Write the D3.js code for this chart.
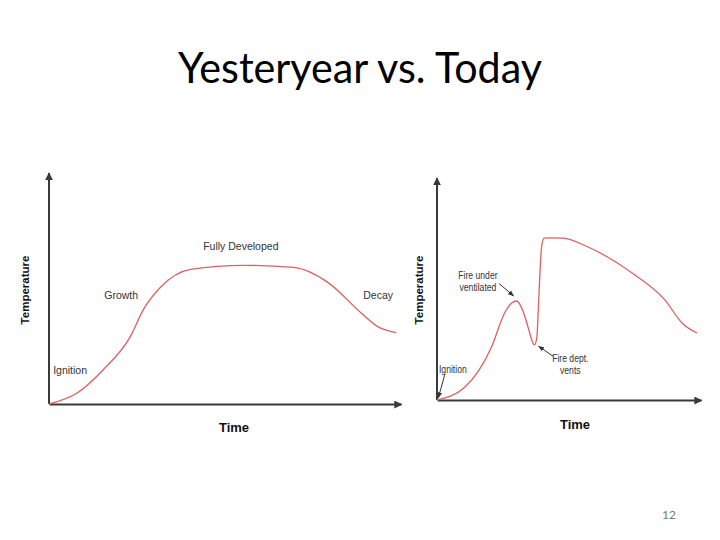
<!DOCTYPE html>
<style>
body { margin: 0; background: #fff; }
</style>
<svg width="720" height="540" font-family="Liberation Sans, Arial, sans-serif"></svg>
<script src="https://d3js.org/d3.v7.min.js"></script>
<script>

// yesteryear curve: time vs temperature (0-100 units)
const oldTime = [0, 8.0, 15.4, 23.1, 26.8, 31.6, 40.2, 55.3, 69.5, 79.2, 88.6, 93.4, 98.6];
const oldTemp = [0, 4.7, 14.7, 28.9, 40.5, 50.0, 57.8, 59.5, 58.6, 52.2, 39.2, 33.2, 30.6];
const oldLabels = ['Ignition', 'Growth', 'Fully Developed', 'Decay'];
const oldLabelPos = [[6, 14.5], [20.5, 46.5], [54.5, 67.5], [93.5, 46.5]];

// today curve
const newTime = [0, 10.6, 20.7, 25.8, 28.3, 30.2, 32.7, 34.6, 35.9, 36.9, 37.8, 38.4, 39.0, 39.7, 40.6, 43.4, 47.7, 57.2, 73.9, 86.4, 92.8, 98.5];
const newTemp = [0, 5.8, 23.8, 39.3, 43.3, 44.2, 39.3, 32.1, 26.8, 24.6, 27.7, 41.1, 57.1, 69.2, 72.3, 72.4, 72.3, 68.3, 56.7, 44.6, 34.4, 29.9];

const svg = d3.select('svg');
const axisColor = '#3a3a3a';
const lineColor = '#de5f5f';

const defs = svg.append('defs');
defs.append('marker')
	.attr('id', 'arrow')
	.attr('viewBox', '0 0 10 10')
	.attr('refX', 9)
	.attr('refY', 5)
	.attr('markerWidth', 4)
	.attr('markerHeight', 4)
	.attr('orient', 'auto')
	.append('path')
	.attr('d', 'M0,0 L10,5 L0,10 z')
	.attr('fill', axisColor);
defs.append('marker')
	.attr('id', 'small')
	.attr('viewBox', '0 0 10 10')
	.attr('refX', 9)
	.attr('refY', 5)
	.attr('markerWidth', 6)
	.attr('markerHeight', 6)
	.attr('orient', 'auto')
	.append('path')
	.attr('d', 'M0,1 L10,5 L0,9 z')
	.attr('fill', '#333');

svg.append('text')
	.attr('x', 360)
	.attr('y', 83)
	.attr('text-anchor', 'middle')
	.attr('font-family', 'Lato, Carlito, sans-serif')
	.attr('font-size', 42)
	.attr('textLength', 364)
	.attr('lengthAdjust', 'spacingAndGlyphs')
	.attr('fill', '#000')
	.text('Yesteryear vs. Today');

svg.append('text')
	.attr('x', 669)
	.attr('y', 519)
	.attr('text-anchor', 'middle')
	.attr('font-family', 'Lato, sans-serif')
	.attr('font-size', 12)
	.attr('fill', '#777')
	.text('12');

function panel(cfg) {
	const x = d3.scaleLinear().domain([0, 100]).range(cfg.xr);
	const y = d3.scaleLinear().domain([0, 100]).range(cfg.yr);
	const g = svg.append('g');

	const xa = g.append('g')
		.attr('transform', `translate(0,${cfg.yr[0]})`)
		.call(d3.axisBottom(x).tickValues([]).tickSizeOuter(0));
	const ya = g.append('g')
		.attr('transform', `translate(${cfg.xr[0]},0)`)
		.call(d3.axisLeft(y).tickValues([]).tickSizeOuter(0));
	xa.select('.domain').attr('stroke', axisColor).attr('stroke-width', 2).attr('marker-end', 'url(#arrow)');
	// y domain path draws bottom to top
	ya.select('.domain')
		.attr('d', `M0,${cfg.yr[0]}V${cfg.yr[1] + 2}`)
		.attr('stroke', axisColor).attr('stroke-width', 2).attr('marker-end', 'url(#arrow)');

	g.append('path')
		.datum(cfg.time.map((t, i) => [t, cfg.temp[i]]))
		.attr('fill', 'none')
		.attr('stroke', lineColor)
		.attr('stroke-width', 1.3)
		.attr('d', d3.line().x((d) => x(d[0])).y((d) => y(d[1])).curve(d3.curveMonotoneX));

	g.append('text')
		.attr('transform', `translate(${cfg.tx},${cfg.ty}) rotate(-90)`)
		.attr('text-anchor', 'middle')
		.attr('font-weight', 'bold')
		.attr('font-size', 11.5)
		.attr('fill', '#111')
		.text('Temperature');
	g.append('text')
		.attr('x', cfg.timeX)
		.attr('y', cfg.timeY)
		.attr('text-anchor', 'middle')
		.attr('font-weight', 'bold')
		.attr('font-size', 13)
		.attr('fill', '#111')
		.text('Time');
	return {g, x, y};
}

const left = panel({xr: [49, 401], yr: [404, 171], time: oldTime, temp: oldTemp,
	tx: 29, ty: 290, timeX: 234, timeY: 432});
left.g.selectAll('.lbl')
	.data(oldLabels)
	.enter().append('text')
	.attr('x', (d, i) => left.x(oldLabelPos[i][0]))
	.attr('y', (d, i) => left.y(oldLabelPos[i][1]))
	.attr('dy', '0.35em')
	.attr('text-anchor', 'middle')
	.attr('font-size', 10.5)
	.attr('fill', '#333')
	.text((d) => d);

const right = panel({xr: [437, 701], yr: [400, 176], time: newTime, temp: newTemp,
	tx: 423, ty: 290, timeX: 575, timeY: 429});

// annotations on right chart (condensed text)
const notes = [
	{lines: ['Fire under', 'ventilated'], at: [15.5, 55.5], from: [23.5, 52], to: [29, 46.5]},
	{lines: ['Fire dept.', 'vents'], at: [50.5, 18.5], from: [44, 19.5], to: [38.5, 24]},
	{lines: ['Ignition'], at: [6, 13.5], from: [3, 11.5], to: [0.5, 1]}
];
notes.forEach((n) => {
	const t = right.g.append('text')
		.attr('transform', `translate(${right.x(n.at[0])},${right.y(n.at[1])}) scale(0.82,1)`)
		.attr('text-anchor', 'middle')
		.attr('font-size', 10.5)
		.attr('fill', '#333');
	n.lines.forEach((l, i) => {
		t.append('tspan').attr('x', 0).attr('dy', i ? 12 : '0.35em').text(l);
	});
	right.g.append('line')
		.attr('x1', right.x(n.from[0])).attr('y1', right.y(n.from[1]))
		.attr('x2', right.x(n.to[0])).attr('y2', right.y(n.to[1]))
		.attr('stroke', '#333')
		.attr('stroke-width', 1)
		.attr('marker-end', 'url(#small)');
});

</script>
